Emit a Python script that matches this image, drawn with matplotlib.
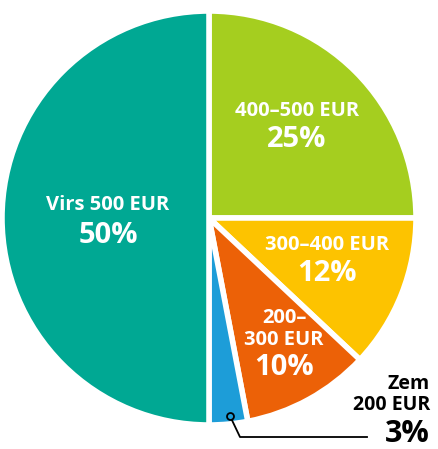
import matplotlib.pyplot as plt

# spending groups, clockwise from the top
names = ["400–500 EUR", "300–400 EUR", "200–\n300 EUR", "Zem\n200 EUR", "Virs 500 EUR"]
shares = [25, 12, 10, 3, 50]
colors = ["#a5ce1f", "#fdc300", "#ec6107", "#1d9dd8", "#00a893"]

W, H = 438, 449
fig = plt.figure(figsize=(W / 100, H / 100), dpi=100)
ax = fig.add_axes([0, 0, 1, 1])

ax.pie(shares, colors=colors, startangle=90, counterclock=False,
       radius=207, center=(209, H - 218),
       wedgeprops=dict(edgecolor="white", linewidth=4))
ax.set_xlim(0, W)
ax.set_ylim(0, H)
ax.set_aspect("equal")
ax.axis("off")

font = "Open Sans"

def label(x, y, s, size, color="white", ha="center"):
    # y is the baseline, counted from the top in pixels
    ax.text(x, H - y, s, ha=ha, va="baseline", fontsize=size,
            fontweight="bold", color=color, family=font)

# (x, baseline of each name line, baseline of the percent)
spots = [(297, [116], 147), (327, [250], 281), (284, [323, 345], 375),
         (430, [389, 410], 442), (108, [210], 243)]

for i in range(len(shares)):
    x, name_y, pct_y = spots[i]
    lines = names[i].split("\n")
    if i == 3:
        # small slice: label outside the pie, black, with a leader line
        for s, y in zip(lines, name_y):
            label(x, y, s, 14, color="black", ha="right")
        label(x, pct_y, f"{shares[i]}%", 22, color="black", ha="right")
        ax.plot([230, 240, 367], [H - 416, H - 437, H - 437], color="black", lw=1.3)
        ax.plot(230, H - 416, "o", ms=5, mfc="#1d9dd8", mec="black", mew=1.3)
    else:
        for s, y in zip(lines, name_y):
            label(x, y, s, 14.5)
        label(x, pct_y, f"{shares[i]}%", 21)

fig.savefig("out.png", dpi=100)
